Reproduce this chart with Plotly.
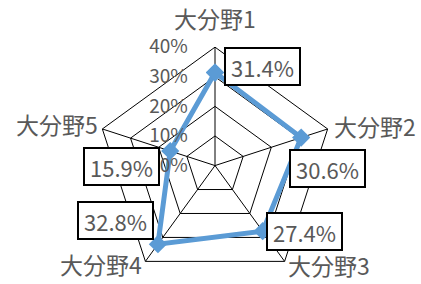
import math
import plotly.graph_objects as go

categories = ["大分野1", "大分野2", "大分野3", "大分野4", "大分野5"]
values = [31.4, 30.6, 27.4, 32.8, 15.9]
value_labels = ["31.4%", "30.6%", "27.4%", "32.8%", "15.9%"]
radial_ticks = [0, 10, 20, 30, 40]
radial_tick_labels = ["0%", "10%", "20%", "30%", "40%"]

# label box offsets in pixels (style)
label_shift = [(47, 6), (26, -31), (42, 0), (-42, 24), (-49, -15)]
# category label placement (style): xanchor, yanchor, xshift, yshift
cat_style = [("center", "bottom", 0, 10), ("left", "middle", 4, 3),
             ("left", "middle", 1, -4), ("right", "middle", -1, -3),
             ("right", "middle", -2, 5)]

FONT = "Noto Sans CJK JP"
GRAY = "#595959"
BLUE = "#5B9BD5"

dom_x = [0.2292, 0.7922]
dom_y = [0.0, 0.834]
rmax = 40

fig = go.Figure()
fig.add_trace(go.Scatterpolar(
    r=values + [values[0]],
    theta=categories + [categories[0]],
    mode="lines+markers",
    line=dict(color=BLUE, width=5),
    marker=dict(symbol="diamond", size=14, color=BLUE),
    showlegend=False,
    hoverinfo="skip",
))

# invisible cartesian frame that coincides with the polar area, for label boxes
fig.add_trace(go.Scatter(x=[None], y=[None], xaxis="x", yaxis="y", showlegend=False))

annotations = []
n = len(categories)
for i, (v, lab) in enumerate(zip(values, value_labels)):
    ang = math.radians(90 - i * 360 / n)
    annotations.append(dict(
        x=v * math.cos(ang), y=v * math.sin(ang), xref="x", yref="y",
        text=lab, showarrow=False,
        xshift=label_shift[i][0], yshift=label_shift[i][1],
        font=dict(family=FONT, size=22, color=GRAY),
        bgcolor="white", bordercolor="black", borderwidth=2,
        borderpad=1, width=71, height=33,
    ))
for i, cat in enumerate(categories):
    ang = math.radians(90 - i * 360 / n)
    xa, ya, xs, ys = cat_style[i]
    annotations.append(dict(
        x=rmax * math.cos(ang), y=rmax * math.sin(ang), xref="x", yref="y",
        text=cat, showarrow=False, xanchor=xa, yanchor=ya,
        xshift=xs, yshift=ys,
        font=dict(family=FONT, size=23, color=GRAY),
    ))

fig.update_layout(
    width=421, height=284,
    margin=dict(l=0, r=0, t=0, b=0, autoexpand=False),
    paper_bgcolor="white",
    plot_bgcolor="rgba(0,0,0,0)",
    font=dict(family=FONT, color=GRAY),
    polar=dict(
        domain=dict(x=dom_x, y=dom_y),
        gridshape="linear",
        bgcolor="white",
        angularaxis=dict(
            direction="clockwise", rotation=90,
            linecolor="black", linewidth=1,
            gridcolor="black", gridwidth=1,
            showline=True, ticks="", showticklabels=False,
        ),
        radialaxis=dict(
            range=[0, rmax], tickvals=radial_ticks, ticktext=radial_tick_labels,
            angle=90, tickangle=90, side="counterclockwise",
            showline=False, ticks="outside", ticklen=20, tickcolor="rgba(0,0,0,0)",
            gridcolor="black", gridwidth=1,
            tickfont=dict(family=FONT, size=19, color=GRAY),
        ),
    ),
    xaxis=dict(domain=dom_x, range=[-rmax, rmax], visible=False, fixedrange=True, automargin=False),
    yaxis=dict(domain=dom_y, range=[-rmax, rmax], visible=False, fixedrange=True, automargin=False),
    annotations=annotations,
)

fig.write_html("out.html", config={"displayModeBar": False},
               post_script="document.body.style.margin='0';")
